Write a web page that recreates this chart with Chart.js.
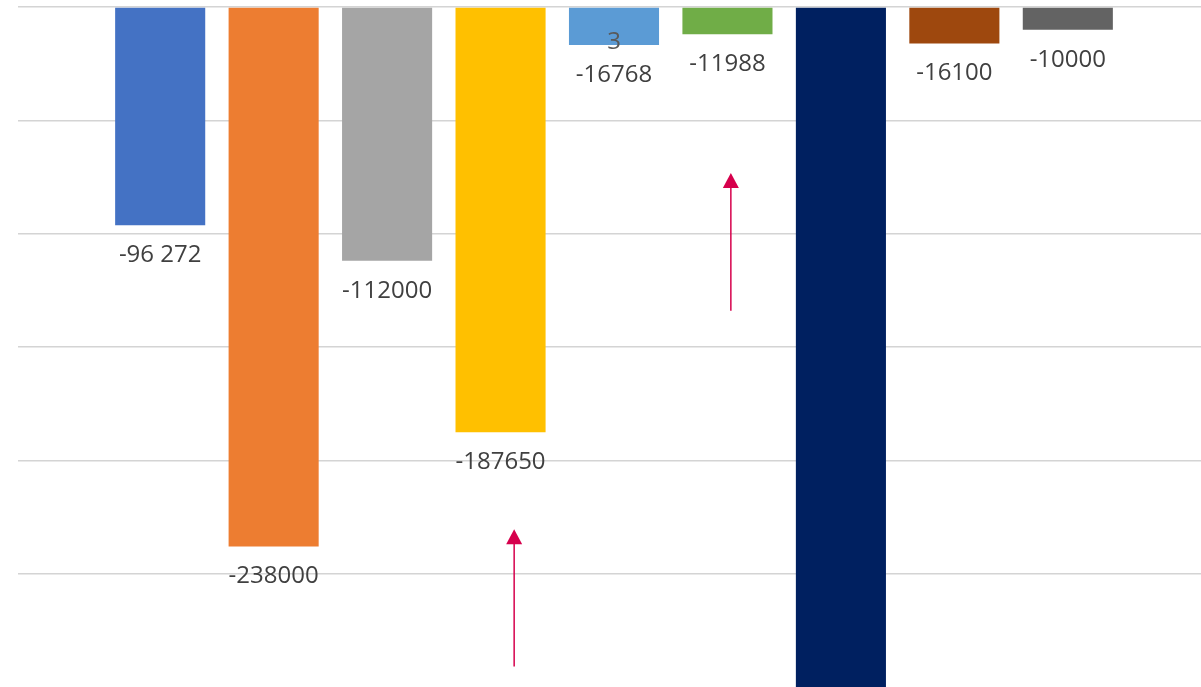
<!DOCTYPE html>
<html>
<head>
<meta charset="utf-8">
<script src="https://cdn.jsdelivr.net/npm/chart.js@4.4.1/dist/chart.umd.min.js"></script>
<style>
  html, body { margin: 0; padding: 0; background: #fff; overflow: hidden; }
  #wrap { position: absolute; left: 18px; top: 0; width: 1183px; height: 687px; overflow: hidden; }
  #chart { position: absolute; left: -28px; top: 0; }
</style>
</head>
<body>
<div id="wrap"><canvas id="chart" width="1248" height="687"></canvas></div>
<script>
// categories (first and last are empty slots, the picture is cropped)
const categories = ["", "1", "2", "3", "4", "5", "6", "7", "8", "9", ""];
const values = [null, -96272, -238000, -112000, -187650, -16768, -11988, -340000, -16100, -10000, null];
const valueLabels = ["", "-96 272", "-238000", "-112000", "-187650", "-16768", "-11988", "", "-16100", "-10000", ""];
const extraLabels = ["", "", "", "", "", "3", "", "", "", "", ""];
const barColors = ["#fff", "#4472C4", "#ED7D31", "#A5A5A5", "#FFC000", "#5B9BD5", "#70AD47", "#002060", "#9E480E", "#636363", "#fff"];

// y axis
const yMin = -300000;
const yMax = 0;
const yStep = 50000;

// arrows: category position, from value, to value (arrow head at "to")
const arrowX = [4.12, 6.03];
const arrowFrom = [-291000, -134000];
const arrowTo = [-230400, -73200];

const labelPlugin = {
  id: "barLabels",
  afterDatasetsDraw(chart) {
    const ctx = chart.ctx;
    const meta = chart.getDatasetMeta(0);
    ctx.save();
    ctx.font = "24px 'Open Sans'";
    ctx.textAlign = "center";
    ctx.textBaseline = "alphabetic";
    meta.data.forEach((bar, i) => {
      if (values[i] == null) return;
      if (valueLabels[i]) {
        ctx.fillStyle = "#404040";
        ctx.fillText(valueLabels[i], bar.x, bar.y + 37);
      }
      if (extraLabels[i]) {
        ctx.fillStyle = "#595959";
        ctx.fillText(extraLabels[i], bar.x, bar.y + 4);
      }
    });
    ctx.restore();
  },
};

const arrowPlugin = {
  id: "arrows",
  afterDraw(chart) {
    const ctx = chart.ctx;
    const xs = chart.scales.x;
    const ys = chart.scales.y;
    ctx.save();
    ctx.strokeStyle = "#D6004C";
    ctx.fillStyle = "#D6004C";
    ctx.lineWidth = 1.5;
    arrowX.forEach((ax, i) => {
      const x = xs.getPixelForValue(ax);
      const y1 = ys.getPixelForValue(arrowFrom[i]);
      const y2 = ys.getPixelForValue(arrowTo[i]);
      ctx.beginPath();
      ctx.moveTo(x, y1);
      ctx.lineTo(x, y2 + 10);
      ctx.stroke();
      ctx.beginPath();
      ctx.moveTo(x, y2);
      ctx.lineTo(x - 8, y2 + 15);
      ctx.lineTo(x + 8, y2 + 15);
      ctx.closePath();
      ctx.fill();
    });
    ctx.restore();
  },
};

new Chart(document.getElementById("chart"), {
  type: "bar",
  data: {
    labels: categories,
    datasets: [{
      data: values,
      backgroundColor: barColors,
      barPercentage: 0.794,
      categoryPercentage: 1,
    }],
  },
  options: {
    responsive: false,
    animation: false,
    layout: { padding: { top: 7, bottom: 0, left: 0, right: 0 } },
    plugins: { legend: { display: false }, tooltip: { enabled: false } },
    scales: {
      x: { display: false },
      y: {
        min: yMin,
        max: yMax,
        ticks: { display: false, stepSize: yStep },
        border: { display: false },
        grid: {
          color: (c) => (c.tick && c.tick.value === yMin ? "rgba(0,0,0,0)" : "#D4D4D4"),
          lineWidth: 1.5,
          drawTicks: false,
        },
      },
    },
  },
  plugins: [labelPlugin, arrowPlugin],
});
</script>
</body>
</html>
